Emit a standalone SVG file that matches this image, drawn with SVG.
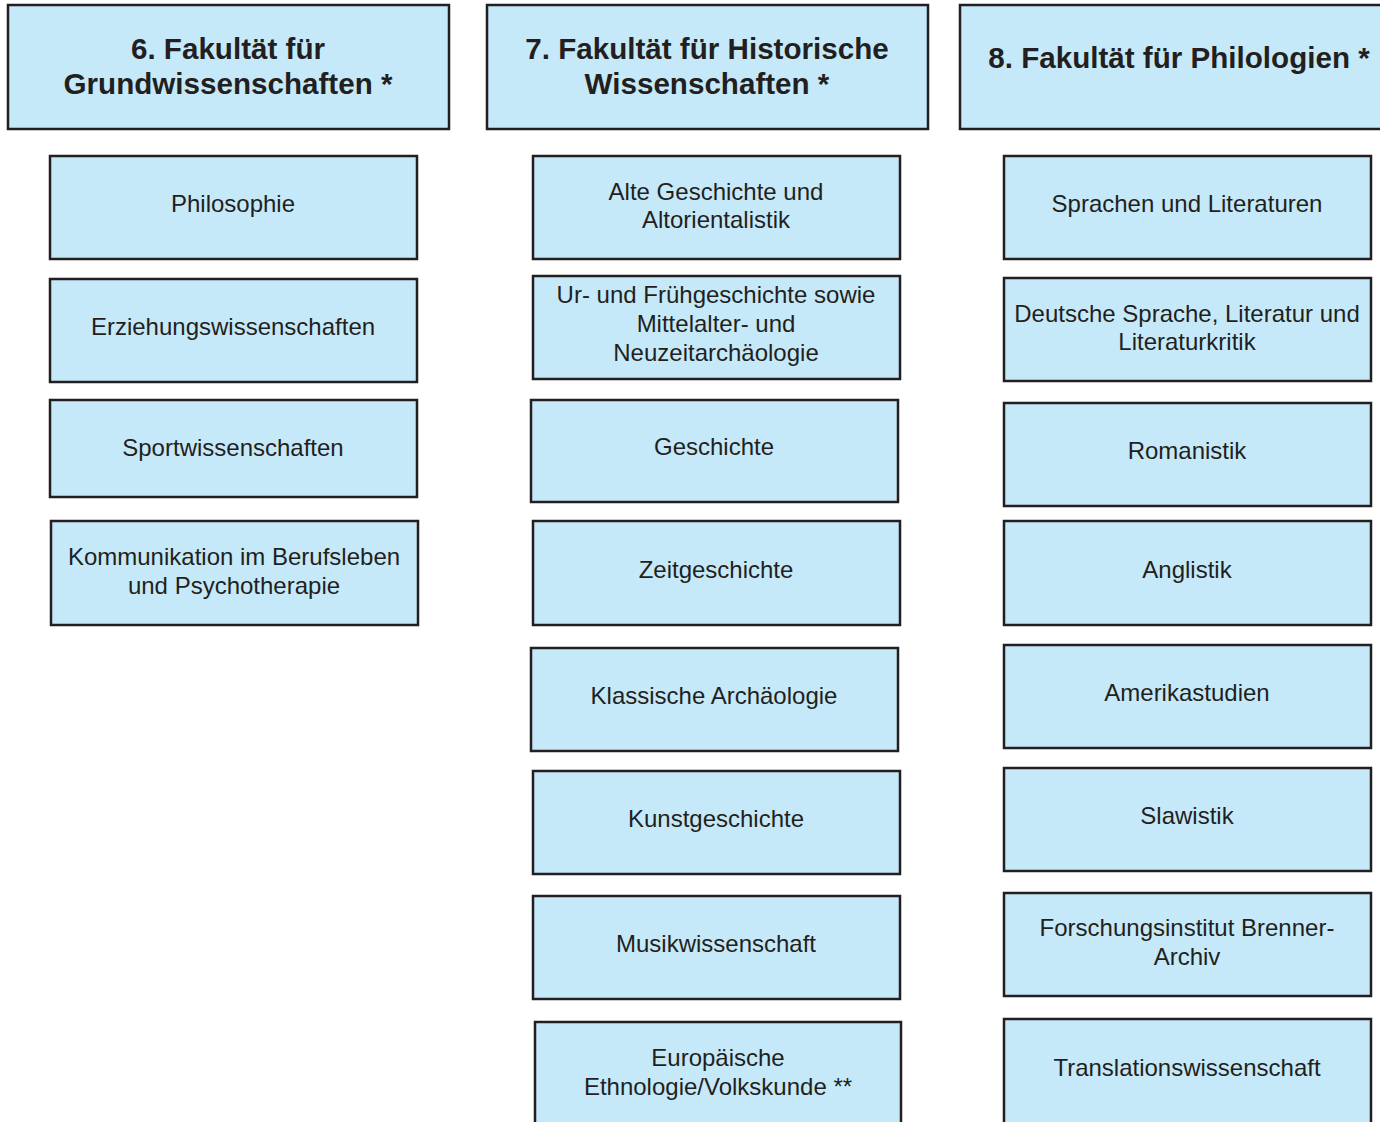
<svg xmlns="http://www.w3.org/2000/svg" width="1380" height="1122" viewBox="0 0 1380 1122">
<style>
rect{fill:#c6e9f9;stroke:#231f20;stroke-width:2.5}
text{font-family:"Liberation Sans",Arial,sans-serif;fill:#231f20;text-anchor:middle}
.h{font-size:29.6px;font-weight:bold}
.b{font-size:24px}
</style>
<rect x="0" y="0" width="1380" height="1122" style="fill:#fff;stroke:none"/>
<g id="connectors"></g>
<g id="f6"><rect x="8" y="5" width="441" height="124"/><text class="h" x="228" y="59">6. Fakultät für</text><text class="h" x="228" y="94">Grundwissenschaften *</text></g>
<g id="f7"><rect x="487" y="5" width="441" height="124"/><text class="h" x="707" y="59">7. Fakultät für Historische</text><text class="h" x="707" y="94">Wissenschaften *</text></g>
<g id="f8"><rect x="960" y="5" width="430" height="124"/><text class="h" x="1179" y="68">8. Fakultät für Philologien *</text></g>

<g id="philosophie"><rect x="50" y="156" width="367" height="103"/><text class="b" x="233" y="212">Philosophie</text></g>
<g id="erziehung"><rect x="50" y="279" width="367" height="103"/><text class="b" x="233" y="335">Erziehungswissenschaften</text></g>
<g id="sport"><rect x="50" y="400" width="367" height="97"/><text class="b" x="233" y="456">Sportwissenschaften</text></g>
<g id="kommunikation"><rect x="51" y="521" width="367" height="104"/><text class="b" x="234" y="565">Kommunikation im Berufsleben</text><text class="b" x="234" y="594">und Psychotherapie</text></g>

<g id="altegeschichte"><rect x="533" y="156" width="367" height="103"/><text class="b" x="716" y="200">Alte Geschichte und</text><text class="b" x="716" y="228">Altorientalistik</text></g>
<g id="urgeschichte"><rect x="533" y="276" width="367" height="103"/><text class="b" x="716" y="303">Ur- und Frühgeschichte sowie</text><text class="b" x="716" y="332">Mittelalter- und</text><text class="b" x="716" y="361">Neuzeitarchäologie</text></g>
<g id="geschichte"><rect x="531" y="400" width="367" height="102"/><text class="b" x="714" y="455">Geschichte</text></g>
<g id="zeitgeschichte"><rect x="533" y="521" width="367" height="104"/><text class="b" x="716" y="578">Zeitgeschichte</text></g>
<g id="klassisch"><rect x="531" y="648" width="367" height="103"/><text class="b" x="714" y="704">Klassische Archäologie</text></g>
<g id="kunst"><rect x="533" y="771" width="367" height="103"/><text class="b" x="716" y="827">Kunstgeschichte</text></g>
<g id="musik"><rect x="533" y="896" width="367" height="103"/><text class="b" x="716" y="952">Musikwissenschaft</text></g>
<g id="ethno"><rect x="535" y="1022" width="366" height="110"/><text class="b" x="718" y="1066">Europäische</text><text class="b" x="718" y="1095">Ethnologie/Volkskunde **</text></g>

<g id="sprachen"><rect x="1004" y="156" width="367" height="103"/><text class="b" x="1187" y="212">Sprachen und Literaturen</text></g>
<g id="deutsch"><rect x="1004" y="278" width="367" height="103"/><text class="b" x="1187" y="322">Deutsche Sprache, Literatur und</text><text class="b" x="1187" y="350">Literaturkritik</text></g>
<g id="romanistik"><rect x="1004" y="403" width="367" height="103"/><text class="b" x="1187" y="459">Romanistik</text></g>
<g id="anglistik"><rect x="1004" y="521" width="367" height="104"/><text class="b" x="1187" y="578">Anglistik</text></g>
<g id="amerika"><rect x="1004" y="645" width="367" height="103"/><text class="b" x="1187" y="701">Amerikastudien</text></g>
<g id="slawistik"><rect x="1004" y="768" width="367" height="103"/><text class="b" x="1187" y="824">Slawistik</text></g>
<g id="brenner"><rect x="1004" y="893" width="367" height="103"/><text class="b" x="1187" y="936">Forschungsinstitut Brenner-</text><text class="b" x="1187" y="965">Archiv</text></g>
<g id="translation"><rect x="1004" y="1019" width="367" height="113"/><text class="b" x="1187" y="1076">Translationswissenschaft</text></g>
</svg>
